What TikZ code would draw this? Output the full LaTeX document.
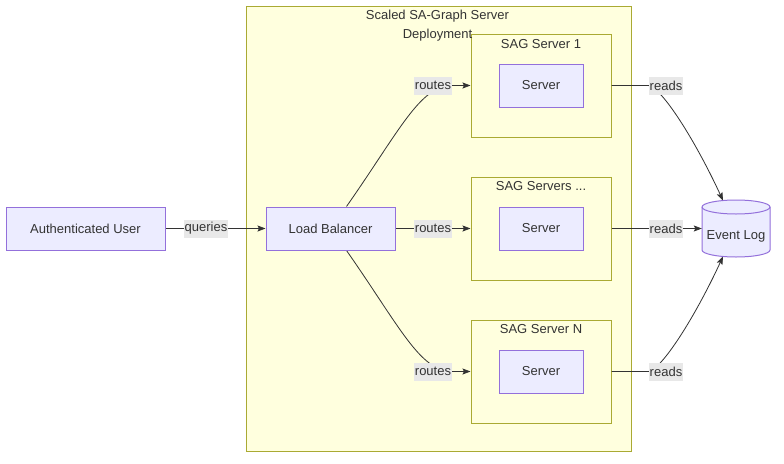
\documentclass[tikz,border=0pt]{standalone}
\usepackage{fontspec}
\setmainfont{Liberation Sans}
\usetikzlibrary{arrows.meta}
\definecolor{nodefill}{HTML}{ECECFF}
\definecolor{nodestroke}{HTML}{9370DB}
\definecolor{clfill}{HTML}{FFFFDE}
\definecolor{clstroke}{HTML}{AAAA33}
\definecolor{txt}{HTML}{333333}
\definecolor{lblbg}{HTML}{E8E8E8}
\pgfdeclarelayer{bg}
\pgfdeclarelayer{edges}
\pgfsetlayers{bg,edges,main}
\begin{document}
\begin{tikzpicture}[x=1pt,y=-1pt,
  box/.style={draw=nodestroke,fill=nodefill,line width=1pt,text=txt,
    font=\fontsize{13}{15}\selectfont,inner sep=0pt,minimum height=43pt},
  cluster/.style={draw=clstroke,fill=clfill,line width=1pt,inner sep=0pt},
  ttl/.style={text=txt,font=\fontsize{13}{19}\selectfont,inner sep=0pt,align=center},
  lbl/.style={fill=lblbg,text=txt,font=\fontsize{13}{15}\selectfont,
    inner xsep=1pt,inner ysep=0pt,minimum height=18pt},
  edge/.style={draw=txt,line width=0.8pt,-{Stealth[length=8pt,width=6pt,inset=1.5pt]}}]
\useasboundingbox (0,0) rectangle (784,463);

% clusters
\begin{pgfonlayer}{bg}
\fill[white] (0,0) rectangle (784,463);
\node[cluster,minimum width=385pt,minimum height=445pt] (dep) at (438.5,228.5) {};
\node[cluster,minimum width=140pt,minimum height=103pt] (sag1) at (541,85.5) {};
\node[cluster,minimum width=140pt,minimum height=103pt] (sag2) at (541,228.5) {};
\node[cluster,minimum width=140pt,minimum height=103pt] (sagn) at (541,371.5) {};
\end{pgfonlayer}

\node[ttl] (deptitle) at (437.5,25.5) {Scaled SA-Graph Server\\Deployment};
\node[ttl] (sag1title) at (541,44) {SAG Server 1};
\node[ttl] (sag2title) at (541,186.5) {SAG Servers ...};
\node[ttl] (sagntitle) at (541,329.5) {SAG Server N};

% nodes
\node[box,minimum width=159pt] (auth) at (85.5,228.5) {Authenticated User};
\node[box,minimum width=129pt] (lb) at (330.5,228.5) {Load Balancer};
\node[box,minimum width=84pt] (srv1) at (541,85.5) {Server};
\node[box,minimum width=84pt] (srv2) at (541,228.5) {Server};
\node[box,minimum width=84pt] (srvn) at (541,371.5) {Server};

% event log cylinder
\node[inner sep=0pt,minimum width=68pt,minimum height=57pt,
  label={[text=txt,font=\fontsize{13}{15}\selectfont,inner sep=0pt,yshift=-8pt]center:Event Log}]
  (log) at (736,228.5) {};
\begin{pgfonlayer}{bg}
\path[draw=nodestroke,fill=nodefill,line width=1pt]
  (702,207) -- (702,250)
  arc[start angle=180,end angle=360,x radius=34pt,y radius=7pt]
  -- (770,207)
  arc[start angle=0,end angle=180,x radius=34pt,y radius=7pt] -- cycle;
\draw[nodestroke,line width=1pt] (702,207)
  arc[start angle=180,end angle=360,x radius=34pt,y radius=7pt];
\end{pgfonlayer}

% edge labels
\node[lbl] (q) at (206,228.5) {queries};
\node[lbl] (r1) at (433,85.5) {routes};
\node[lbl] (r2) at (433,228.5) {routes};
\node[lbl] (rn) at (433,371.5) {routes};
\node[lbl] (d1) at (666,85.5) {reads};
\node[lbl] (d2) at (666,228.5) {reads};
\node[lbl] (dn) at (666,371.5) {reads};

\coordinate (logtop) at (723,200.5);
\coordinate (logbot) at (723,256.5);

% edges
\begin{pgfonlayer}{edges}
\draw[edge] (auth.east) -- (q.center) -- (lb.west);
\draw[edge] ([xshift=16pt]lb.north) .. controls (400,130) and (420,85.5) .. (r1.east) -- (sag1.west);
\draw[edge] (lb.east) -- (r2.center) -- (sag2.west);
\draw[edge] ([xshift=16pt]lb.south) .. controls (400,327) and (420,371.5) .. (rn.east) -- (sagn.west);
\draw[edge] (sag1.east) -- (d1.west) .. controls (662,88) and (695,140) .. (logtop);
\draw[edge] (sag2.east) -- (d2.center) -- (log.west);
\draw[edge] (sagn.east) -- (dn.west) .. controls (662,369) and (695,317) .. (logbot);
\end{pgfonlayer}
\end{tikzpicture}
\end{document}
